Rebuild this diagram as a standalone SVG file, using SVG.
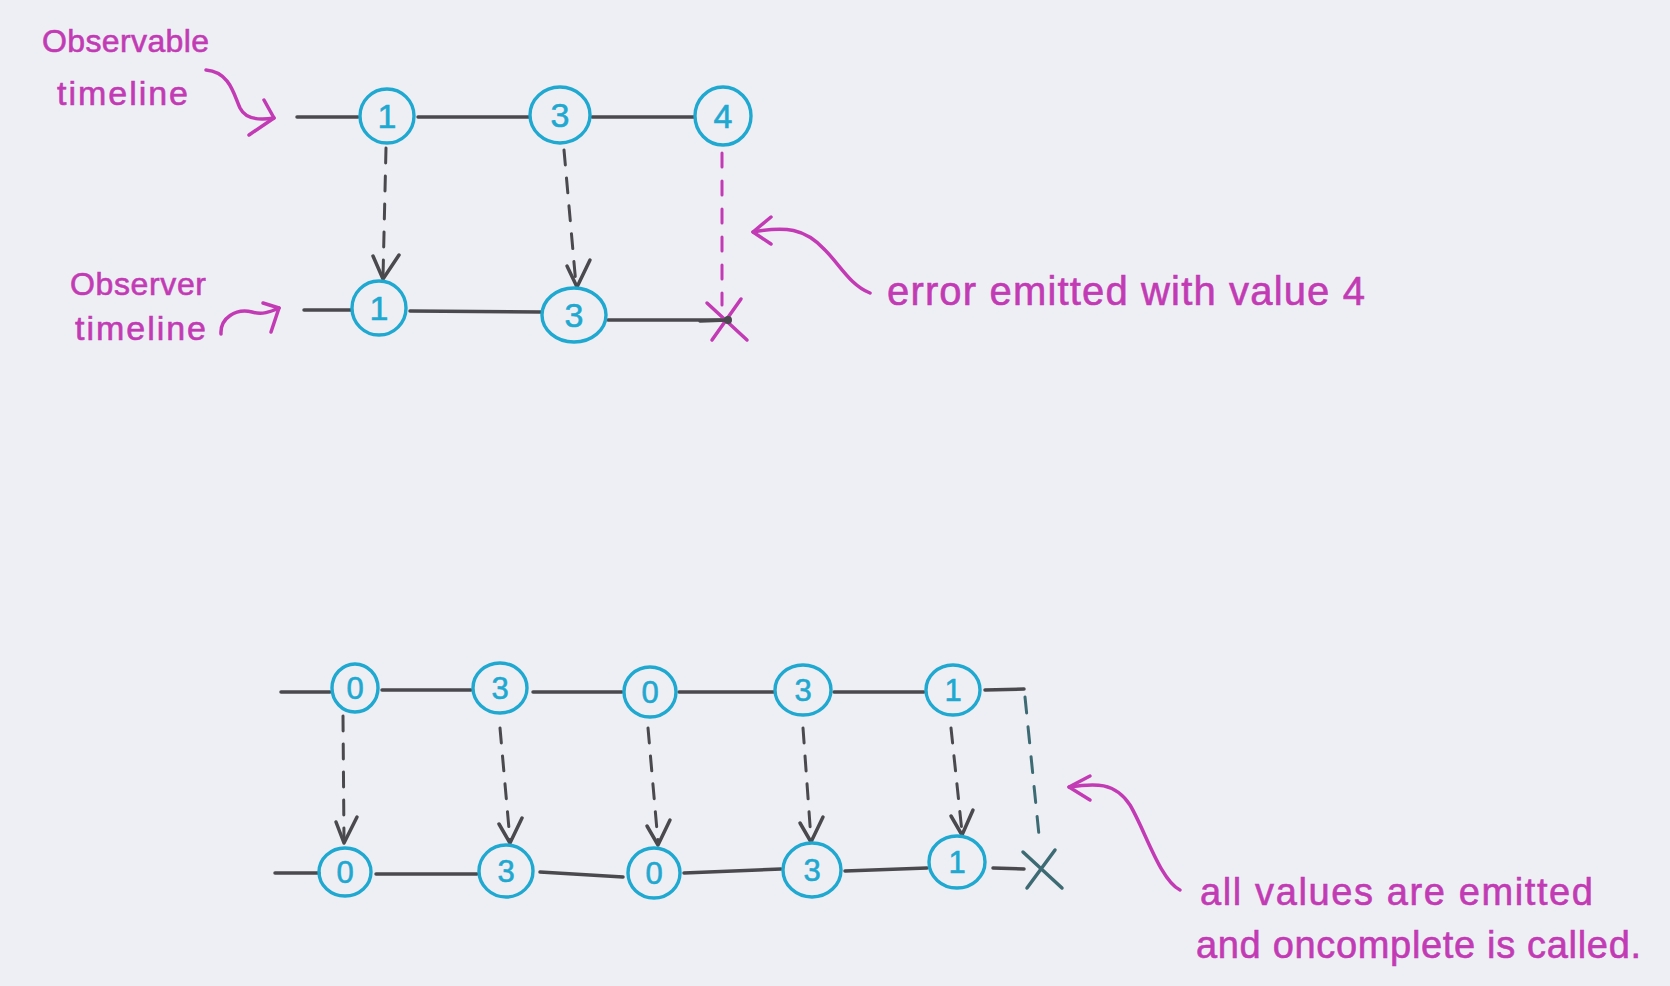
<svg xmlns="http://www.w3.org/2000/svg" width="1670" height="986" viewBox="0 0 1670 986">
<defs>
<style>
.bg{fill:#eeeff4}
.ln{stroke:#4a4a4e;stroke-width:3.5;fill:none;stroke-linecap:round}
.dash{stroke:#4a4a4e;stroke-width:3;fill:none;stroke-dasharray:15 13;stroke-linecap:round}
.pdash{stroke:#c23bb4;stroke-width:3;fill:none;stroke-dasharray:14 14;stroke-linecap:round}
.tdash{stroke:#3d6b73;stroke-width:3;fill:none;stroke-dasharray:16 14;stroke-linecap:round}
.node{fill:none;stroke:#1fa8d0;stroke-width:3.4}
.num{fill:#1fa8d0;stroke:#1fa8d0;stroke-width:0.6;font-family:"Liberation Sans",Arial,sans-serif;text-anchor:middle}
.pk{stroke:#c23bb4;stroke-width:3.5;fill:none;stroke-linecap:round;stroke-linejoin:round}
.lbl{fill:#c23bb4;stroke:#c23bb4;stroke-width:0.6;font-family:"Liberation Sans",Arial,sans-serif}
.head{stroke:#4a4a4e;stroke-width:3.5;fill:none;stroke-linecap:round;stroke-linejoin:round}
</style>
</defs>
<rect class="bg" x="0" y="0" width="1670" height="986"/>

<g id="connectors">
  <path class="ln" d="M297,117 L358,117"/>
  <path class="ln" d="M418,117 L529,117"/>
  <path class="ln" d="M592,117 L694,117"/>
  <path class="ln" d="M304,310 L351,310"/>
  <path class="ln" d="M410,311 L541,312"/>
  <path class="ln" d="M608,320 L727,320"/>
  <path class="dash" d="M386,148 L383,277"/>
  <path class="head" d="M373,256 L383,279 L399,255"/>
  <path class="dash" d="M564,150 L576,285"/>
  <path class="head" d="M567,266 L577,287 L590,260"/>
  <path class="pdash" d="M722,153 L722,305"/>

  <path class="ln" d="M281,692 L330,692"/>
  <path class="ln" d="M382,690 L471,690"/>
  <path class="ln" d="M533,692 L622,692"/>
  <path class="ln" d="M679,692 L774,692"/>
  <path class="ln" d="M834,692 L924,692"/>
  <path class="ln" d="M985,690 L1024,689"/>
  <path class="ln" d="M275,873 L319,873"/>
  <path class="ln" d="M376,874 L477,874"/>
  <path class="ln" d="M540,872 L623,877"/>
  <path class="ln" d="M684,873 L781,869"/>
  <path class="ln" d="M845,871 L927,868"/>
  <path class="ln" d="M993,868 L1024,869"/>
  <path class="dash" d="M343,716 L344,840"/>
  <path class="head" d="M336,822 L344,843 L357,817"/>
  <path class="dash" d="M500,728 L510,840"/>
  <path class="head" d="M499,824 L510,843 L522,818"/>
  <path class="dash" d="M648,728 L658,842"/>
  <path class="head" d="M647,826 L658,845 L670,820"/>
  <path class="dash" d="M803,728 L811,839"/>
  <path class="head" d="M800,823 L811,842 L823,817"/>
  <path class="dash" d="M951,728 L962,832"/>
  <path class="head" d="M951,816 L962,835 L973,810"/>
  <path class="tdash" d="M1025,697 L1040,845"/>
</g>

<g id="obs-1"><ellipse class="node" cx="387" cy="116" rx="27" ry="27"/><text class="num" x="387" y="128" font-size="34">1</text></g>
<g id="obs-3"><ellipse class="node" cx="560" cy="115" rx="30" ry="28"/><text class="num" x="560" y="127" font-size="34">3</text></g>
<g id="obs-4"><ellipse class="node" cx="723" cy="116" rx="28" ry="29"/><text class="num" x="723" y="128" font-size="34">4</text></g>
<g id="obr-1"><ellipse class="node" cx="379" cy="308" rx="27" ry="27"/><text class="num" x="379" y="320" font-size="34">1</text></g>
<g id="obr-3"><ellipse class="node" cx="574" cy="315" rx="32" ry="27"/><text class="num" x="574" y="327" font-size="34">3</text></g>
<g id="obr-error">
  <path class="pk" d="M707,303 L747,340 M741,299 L712,340"/>
  <path class="ln" d="M700,321 L728,320"/>
  <circle cx="728" cy="320" r="4" fill="#4a4a4e"/>
</g>

<g id="src-0a"><ellipse class="node" cx="355" cy="688" rx="23" ry="24"/><text class="num" x="355" y="699" font-size="31">0</text></g>
<g id="src-3a"><ellipse class="node" cx="500" cy="688" rx="27" ry="25"/><text class="num" x="500" y="699" font-size="31">3</text></g>
<g id="src-0b"><ellipse class="node" cx="650" cy="692" rx="26" ry="25"/><text class="num" x="650" y="703" font-size="31">0</text></g>
<g id="src-3b"><ellipse class="node" cx="803" cy="690" rx="28" ry="25"/><text class="num" x="803" y="701" font-size="31">3</text></g>
<g id="src-1"><ellipse class="node" cx="953" cy="690" rx="27" ry="25"/><text class="num" x="953" y="701" font-size="31">1</text></g>
<g id="dst-0a"><ellipse class="node" cx="345" cy="872" rx="26" ry="24"/><text class="num" x="345" y="883" font-size="31">0</text></g>
<g id="dst-3a"><ellipse class="node" cx="506" cy="871" rx="27" ry="26"/><text class="num" x="506" y="882" font-size="31">3</text></g>
<g id="dst-0b"><ellipse class="node" cx="654" cy="873" rx="26" ry="25"/><text class="num" x="654" y="884" font-size="31">0</text></g>
<g id="dst-3b"><ellipse class="node" cx="812" cy="870" rx="29" ry="27"/><text class="num" x="812" y="881" font-size="31">3</text></g>
<g id="dst-1"><ellipse class="node" cx="957" cy="862" rx="28" ry="26"/><text class="num" x="957" y="873" font-size="31">1</text></g>
<g id="dst-complete">
  <path d="M1023,852 L1062,888 M1055,850 L1027,888" stroke="#3d6b73" stroke-width="3.5" fill="none" stroke-linecap="round"/>
</g>

<g id="label-observable">
  <text class="lbl" x="42" y="52" font-size="32" textLength="167" lengthAdjust="spacing">Observable</text>
  <text class="lbl" x="57" y="105" font-size="34" textLength="131" lengthAdjust="spacing">timeline</text>
  <path class="pk" d="M206,70 C230,72 234,95 240,108 C246,120 262,120 274,118"/>
  <path class="pk" d="M264,100 L274,118 L249,135"/>
</g>
<g id="label-observer">
  <text class="lbl" x="70" y="295" font-size="32" textLength="136" lengthAdjust="spacing">Observer</text>
  <text class="lbl" x="75" y="340" font-size="34" textLength="131" lengthAdjust="spacing">timeline</text>
  <path class="pk" d="M221,334 C220,318 236,308 252,312 C262,315 270,312 279,308"/>
  <path class="pk" d="M263,303 L279,308 L271,332"/>
</g>
<g id="label-error">
  <text class="lbl" x="887" y="305" font-size="40" textLength="478" lengthAdjust="spacing">error emitted with value 4</text>
  <path class="pk" d="M870,293 C850,285 840,265 825,250 C805,228 785,226 753,232"/>
  <path class="pk" d="M771,217 L753,232 L771,244"/>
</g>
<g id="label-complete">
  <text class="lbl" x="1200" y="905" font-size="38" textLength="393" lengthAdjust="spacing">all values are emitted</text>
  <text class="lbl" x="1196" y="958" font-size="38" textLength="445" lengthAdjust="spacing">and oncomplete is called.</text>
  <path class="pk" d="M1180,890 C1160,880 1145,830 1130,805 C1115,782 1095,783 1069,787"/>
  <path class="pk" d="M1090,776 L1069,787 L1090,800"/>
</g>
</svg>
